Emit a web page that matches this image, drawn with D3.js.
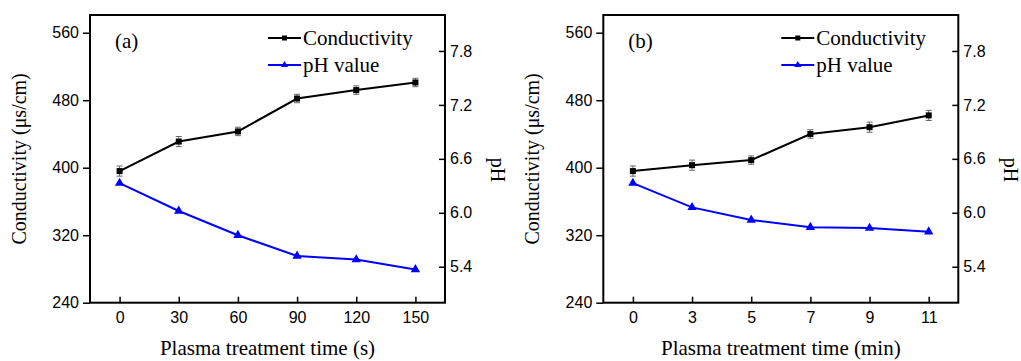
<!DOCTYPE html>
<meta charset="utf-8">
<head>
<script src="https://cdn.jsdelivr.net/npm/d3@7"></script>
<style>
body { margin: 0; background: #fff; }
.tick text { font-family: "Liberation Sans", Arial, sans-serif; font-size: 16px; fill: #000; }
.serif { font-family: "Liberation Serif", "Times New Roman", serif; fill: #000; }
</style>
</head>
<body>
<div id="chart"></div>

<script>
// panel (a): time in seconds
var timesA   = [0, 30, 60, 90, 120, 150];
var condA    = [396, 431, 443, 482, 492, 501];
var condErrA = [6, 6, 5, 5, 5, 5];
var phA      = [6.33, 6.02, 5.75, 5.52, 5.48, 5.37];

// panel (b): time in minutes
var timesB   = ["0", "3", "5", "7", "9", "11"];
var condB    = [396, 403, 409, 440, 448, 462];
var condErrB = [6, 6, 5, 5, 6, 6];
var phB      = [6.33, 6.06, 5.92, 5.84, 5.83, 5.79];

var condTicks = [240, 320, 400, 480, 560];
var phTicks   = [5.4, 6.0, 6.6, 7.2, 7.8];
var legendNames = ["Conductivity", "pH value"];

var W = 1021, H = 361;
var svg = d3.select("#chart").append("svg").attr("width", W).attr("height", H);

function drawPanel(o) {
	var top = 15, bottom = 302.7;
	var g = svg.append("g");

	var yC = d3.scaleLinear().domain([240, 581]).range([bottom, top]);
	var yP = d3.scaleLinear().domain([5.0, 8.2]).range([bottom, top]);

	// left axis, ticks outside
	g.append("g").attr("transform", "translate(" + o.left + ",0)")
		.call(d3.axisLeft(yC).tickValues(condTicks).tickSize(7).tickPadding(4))
		.call(a => a.select(".domain").remove())
		.call(a => a.selectAll("line").attr("stroke-width", 1.5));

	// right axis, ticks inside
	g.append("g").attr("transform", "translate(" + o.right + ",0)")
		.call(d3.axisRight(yP).tickValues(phTicks).tickFormat(d3.format(".1f")).tickSize(-6).tickPadding(5))
		.call(a => a.select(".domain").remove())
		.call(a => a.selectAll("line").attr("stroke-width", 1.5));

	// bottom axis, ticks inside
	g.append("g").attr("transform", "translate(0," + bottom + ")")
		.call(d3.axisBottom(o.x).tickValues(o.times).tickSize(-6).tickPadding(9))
		.call(a => a.select(".domain").remove())
		.call(a => a.selectAll("line").attr("stroke-width", 1.5));

	g.append("rect")
		.attr("x", o.left).attr("y", top)
		.attr("width", o.right - o.left).attr("height", bottom - top)
		.attr("fill", "none").attr("stroke", "black").attr("stroke-width", 2);

	var idx = d3.range(o.times.length);

	// pH line
	g.append("path")
		.datum(idx)
		.attr("fill", "none").attr("stroke", "#0000ff").attr("stroke-width", 2)
		.attr("d", d3.line().x(i => o.x(o.times[i])).y(i => yP(o.ph[i])));
	g.selectAll(".tri").data(idx).enter().append("path")
		.attr("transform", i => "translate(" + o.x(o.times[i]) + "," + yP(o.ph[i]) + ")")
		.attr("d", d3.symbol().type(d3.symbolTriangle).size(38))
		.attr("fill", "#0000ff");

	// conductivity line
	g.append("path")
		.datum(idx)
		.attr("fill", "none").attr("stroke", "black").attr("stroke-width", 2)
		.attr("d", d3.line().x(i => o.x(o.times[i])).y(i => yC(o.cond[i])));

	// error bars
	var eb = g.selectAll(".eb").data(idx).enter().append("g")
		.attr("stroke", "#666").attr("stroke-width", 1);
	eb.append("line")
		.attr("x1", i => o.x(o.times[i])).attr("x2", i => o.x(o.times[i]))
		.attr("y1", i => yC(o.cond[i] - o.err[i])).attr("y2", i => yC(o.cond[i] + o.err[i]));
	eb.append("line")
		.attr("x1", i => o.x(o.times[i]) - 3).attr("x2", i => o.x(o.times[i]) + 3)
		.attr("y1", i => yC(o.cond[i] + o.err[i])).attr("y2", i => yC(o.cond[i] + o.err[i]));
	eb.append("line")
		.attr("x1", i => o.x(o.times[i]) - 3).attr("x2", i => o.x(o.times[i]) + 3)
		.attr("y1", i => yC(o.cond[i] - o.err[i])).attr("y2", i => yC(o.cond[i] - o.err[i]));

	g.selectAll(".sq").data(idx).enter().append("rect")
		.attr("x", i => o.x(o.times[i]) - 3).attr("y", i => yC(o.cond[i]) - 3)
		.attr("width", 6).attr("height", 6).attr("fill", "black");

	// titles
	g.append("text").attr("class", "serif")
		.attr("x", (o.left + o.right) / 2).attr("y", 355)
		.attr("text-anchor", "middle").attr("font-size", 21)
		.text(o.xTitle);
	g.append("text").attr("class", "serif")
		.attr("transform", "translate(" + (o.left - 64) + "," + ((top + bottom) / 2) + ") rotate(-90)")
		.attr("text-anchor", "middle").attr("font-size", 20)
		.text("Conductivity (\u03bcs/cm)");
	g.append("text").attr("class", "serif")
		.attr("transform", "translate(" + (o.right + 46) + "," + 170 + ") rotate(90)")
		.attr("text-anchor", "middle").attr("font-size", 20)
		.text("pH");
	g.append("text").attr("class", "serif")
		.attr("x", o.left + 25).attr("y", 48).attr("font-size", 21)
		.text(o.label);

	// legend
	var lx = o.right - 177;
	var rows = [{c: "black", y: 38}, {c: "#0000ff", y: 65}];
	rows.forEach(function(r, k) {
		g.append("line").attr("x1", lx).attr("x2", lx + 33)
			.attr("y1", r.y).attr("y2", r.y)
			.attr("stroke", r.c).attr("stroke-width", 2);
		if (k == 0) {
			g.append("rect").attr("x", lx + 14).attr("y", r.y - 2.5)
				.attr("width", 5).attr("height", 5).attr("fill", r.c);
		} else {
			g.append("path").attr("transform", "translate(" + (lx + 16.5) + "," + r.y + ")")
				.attr("d", d3.symbol().type(d3.symbolTriangle).size(22)).attr("fill", r.c);
		}
		g.append("text").attr("class", "serif")
			.attr("x", lx + 35).attr("y", r.y + 6.5).attr("font-size", 21)
			.text(legendNames[k]);
	});
}

drawPanel({
	left: 90, right: 445,
	x: d3.scaleLinear().domain([-15, 165]).range([90, 445]),
	times: timesA, cond: condA, err: condErrA, ph: phA,
	xTitle: "Plasma treatment time (s)", label: "(a)"
});

drawPanel({
	left: 603.3, right: 958.3,
	x: d3.scalePoint().domain(timesB).range([603.3, 958.3]).padding(0.5),
	times: timesB, cond: condB, err: condErrB, ph: phB,
	xTitle: "Plasma treatment time (min)", label: "(b)"
});
</script>
</body>
